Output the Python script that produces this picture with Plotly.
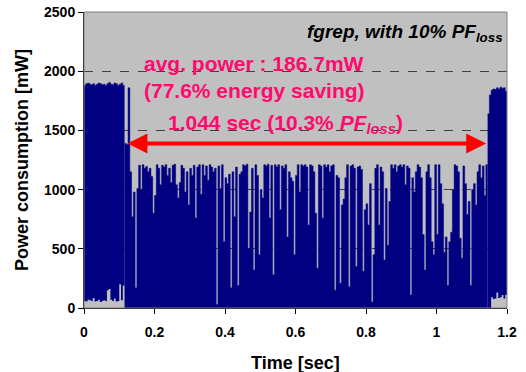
import numpy as np
import plotly.graph_objects as go

# sampling interval of the power trace (sec)
dt = 0.005

# phase 1: full-speed execution (0 .. 0.115 s)
seg1_start = 0.0
seg1_top = [1880, 1895, 1900, 1890, 1885, 1895, 1880, 1890, 1900, 1895, 1885, 1890,
            1880, 1895, 1905, 1890, 1885, 1900, 1895, 1880, 1890, 1900, 1880]
seg1_bottom = [60, 55, 70, 65, 60, 85, 55, 60, 70, 50, 60, 65,
               60, 150, 160, 70, 60, 80, 55, 60, 200, 65, 190]

# phase 2: power-managed execution (0.115 .. 1.145 s) - upper envelope
mid_start = 0.115
mid_top = [
    1390, 1380, 1860, 1150, 770, 980, 170, 1010, 1205, 1000, 1210, 1180, 1195, 1150, 1180,
    1110, 800, 950, 1210, 1180, 1040, 1205, 1190, 1210, 1120, 1180, 1060, 1205, 1215,
    1040, 930, 1060, 1205, 1180, 980, 1150, 870, 1180, 1120, 1205, 760, 1190, 1210, 960,
    1210, 1120, 1200, 1080, 1210, 1190,
    1150, 1180, 30, 1200, 1010, 1210, 560, 1100, 1050, 1130, 170, 1150, 770, 1190, 190,
    1130, 1150, 1210, 1200, 1215, 500, 810, 1180, 320, 1210, 1120, 450, 1000, 930, 1210,
    1200, 1215, 760, 1205, 280, 1210, 1190, 1210, 830, 1200, 1180, 1210, 600, 1150, 1100,
    1070, 450, 1120, 1210, 980, 1210, 1200,
    1210, 1190, 700, 1210, 1200, 1150, 800, 335, 1210, 1200, 760, 1210, 1190, 1210, 1150,
    1200, 1210, 150, 1120, 1100, 210, 870, 920, 1100, 1210, 180, 1200, 1210, 1180, 350,
    1190, 1200, 1170, 310, 830, 880, 700, 1050, 50, 450, 1180, 1210, 700, 1190, 1150, 405,
    1010, 530, 900, 1210, 1180,
    1210, 1150, 1200, 1210, 1190, 1210, 1040, 1200, 1180, 110, 1100, 980, 1150, 1210, 1190,
    1100, 620, 320, 1150, 1210, 1100, 560, 450, 1210, 620, 1210, 1050, 880, 470, 600, 190,
    560, 640, 1000, 1210, 1200, 1150, 590, 420, 1200, 1050, 790, 900, 190, 1000, 1050, 870,
    1150, 1210, 1100, 1200, 950, 1210,
]

# phase 3: full-speed execution again (1.145 .. 1.2 s)
seg3_start = 1.145
seg3_top = [1640, 1800, 1840, 1850, 1845, 1860, 1850, 1865, 1855, 1860, 1830]
seg3_bottom = [0, 0, 90, 75, 80, 130, 85, 90, 110, 80, 110]

x_ticks = [0, 0.2, 0.4, 0.6, 0.8, 1.0, 1.2]
x_tick_labels = ["0", "0.2", "0.4", "0.6", "0.8", "1", "1.2"]
y_ticks = [0, 500, 1000, 1500, 2000, 2500]

BLUE = "#000080"
PINK = "#FF0A6E"
FONT = "Liberation Sans, Arial, sans-serif"


def step_x(start, n):
    return start + dt * np.arange(n + 1)


def step_y(vals):
    return list(vals) + [vals[-1]]


fig = go.Figure()

for start, top, bottom in [(seg1_start, seg1_top, seg1_bottom),
                           (seg3_start, seg3_top, seg3_bottom)]:
    xs = step_x(start, len(top))
    fig.add_trace(go.Scatter(x=xs, y=step_y(bottom), mode="lines", line_shape="hv",
                             line=dict(width=0, color=BLUE), showlegend=False,
                             hoverinfo="skip"))
    fig.add_trace(go.Scatter(x=xs, y=step_y(top), mode="lines", line_shape="hv",
                             line=dict(width=0.5, color=BLUE), fill="tonexty",
                             fillcolor=BLUE, showlegend=False))

xs_mid = step_x(mid_start, len(mid_top))
fig.add_trace(go.Scatter(x=xs_mid, y=step_y(mid_top), mode="lines", line_shape="hv",
                         line=dict(width=0.5, color=BLUE), fill="tozeroy",
                         fillcolor=BLUE, showlegend=False))

annotations = [
    dict(x=1.195, y=2320, xref="x", yref="y", xanchor="right", yanchor="middle",
         text="<b><i>fgrep, with 10% PF<sub>loss</sub></i></b>", showarrow=False,
         font=dict(size=19, color="black", family=FONT)),
    dict(x=0.164, y=2065, xref="x", yref="y", xanchor="left", yanchor="middle",
         text="<b>avg. power : 186.7mW</b>", showarrow=False,
         font=dict(size=21, color=PINK, family=FONT)),
    dict(x=0.164, y=1837, xref="x", yref="y", xanchor="left", yanchor="middle",
         text="<b>(77.6% energy saving)</b>", showarrow=False,
         font=dict(size=21, color=PINK, family=FONT)),
    dict(x=0.232, y=1558, xref="x", yref="y", xanchor="left", yanchor="middle",
         text="<b>1.044 sec (10.3% <i>PF<sub>loss</sub></i>)</b>", showarrow=False,
         font=dict(size=21, color=PINK, family=FONT)),
    dict(x=1.141, y=1390, ax=0.119, ay=1390, xref="x", yref="y", axref="x", ayref="y",
         text="", showarrow=True, arrowside="end+start", arrowhead=2, startarrowhead=2,
         arrowsize=1.0, startarrowsize=1.0, arrowwidth=4, arrowcolor="#FF0000"),
    # x-axis title
    dict(x=0.5, y=-0.186, xref="paper", yref="paper", xanchor="center", yanchor="middle",
         text="<b>Time [sec]</b>", showarrow=False,
         font=dict(size=18, color="black", family=FONT)),
]

fig.update_layout(
    width=526, height=372,
    margin=dict(l=84, r=19, t=12, b=64, autoexpand=False),
    paper_bgcolor="white",
    plot_bgcolor="#C0C0C0",
    font=dict(family=FONT, color="black"),
    annotations=annotations,
    shapes=[dict(type="rect", xref="paper", yref="paper", x0=0, y0=0, x1=1, y1=1,
                 line=dict(color="#808080", width=1), layer="above")],
)

fig.update_xaxes(
    range=[0, 1.2], tickvals=x_ticks, ticktext=x_tick_labels, automargin=False,
    ticks="outside", ticklen=5, tickcolor="black", showline=True, linecolor="black",
    linewidth=1, showgrid=False, zeroline=False, ticklabelstandoff=6,
    tickfont=dict(size=14, family=FONT, weight="bold"),
)
fig.update_yaxes(
    range=[0, 2500], tickvals=y_ticks, automargin=False,
    ticks="outside", ticklen=5, tickcolor="black", showline=True, linecolor="black",
    linewidth=1, showgrid=True, gridcolor="#404040", gridwidth=1, griddash="dash",
    zeroline=False,
    tickfont=dict(size=14, family=FONT, weight="bold"),
    title=dict(text="<b>Power consumption [mW]</b>", font=dict(size=18, family=FONT),
               standoff=10),
)

fig.write_html("out.html")
